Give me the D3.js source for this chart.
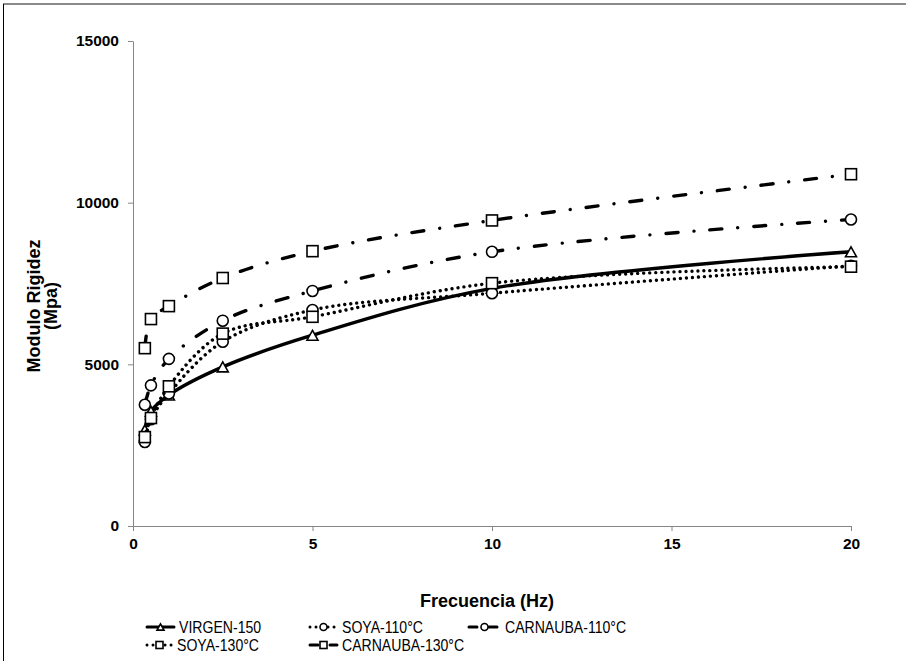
<!DOCTYPE html>
<html>
<head>
<meta charset="utf-8">
<script src="https://cdn.jsdelivr.net/npm/d3@7"></script>
<style>
  body { margin: 0; background: #fff; }
  svg { display: block; font-family: "Liberation Sans", Arial, sans-serif; }
</style>
</head>
<body>
<div id="chart"></div>
<script>
// Frequencies (Hz) and stiffness modulus (MPa)
const freqHz = [0.33, 0.5, 1, 2.5, 5, 10, 20];
const virgen150 = [2970, 3550, 4050, 4920, 5900, 7350, 8480];
const soya110 = [2600, 3300, 4100, 5700, 6680, 7200, 8050];
const carnauba110 = [3750, 4350, 5170, 6350, 7270, 8480, 9480];
const soya130 = [2750, 3340, 4320, 5950, 6470, 7510, 8020];
const carnauba130 = [5500, 6400, 6800, 7670, 8500, 9450, 10880];

const seriesNames = ["VIRGEN-150", "SOYA-110°C", "CARNAUBA-110°C", "SOYA-130°C", "CARNAUBA-130°C"];
const xTicks = [0, 5, 10, 15, 20];
const yTicks = [0, 5000, 10000, 15000];

const width = 906, height = 661;

const svg = d3.select("#chart").append("svg")
  .attr("width", width)
  .attr("height", height);

// chart frame (only top and left edges are visible)
svg.append("line").attr("x1", 3).attr("x2", width).attr("y1", 4).attr("y2", 4)
  .attr("stroke", "#8a8a8a").attr("stroke-width", 2);
svg.append("line").attr("x1", 3.5).attr("x2", 3.5).attr("y1", 4).attr("y2", height)
  .attr("stroke", "#000").attr("stroke-width", 1);

const x = d3.scaleLinear().domain([0, 20]).range([133, 851]);
const y = d3.scaleLinear().domain([0, 15000]).range([526, 41]);

// axes
const xAxis = svg.append("g")
  .attr("transform", "translate(0," + y(0) + ")")
  .call(d3.axisBottom(x).tickValues(xTicks).tickFormat(d3.format("d"))
    .tickSize(5).tickSizeOuter(0).tickPadding(7));
const yAxis = svg.append("g")
  .attr("transform", "translate(" + x(0) + ",0)")
  .call(d3.axisLeft(y).tickValues(yTicks).tickFormat(d3.format("d"))
    .tickSize(5).tickSizeOuter(0).tickPadding(9));

[xAxis, yAxis].forEach(function(g) {
  g.select(".domain").attr("stroke", "#868686");
  g.selectAll(".tick line").attr("stroke", "#868686");
  g.selectAll(".tick text")
    .attr("fill", "#000")
    .style("font-size", "15.5px")
    .style("font-weight", "bold")
    .style("font-family", "'Liberation Sans', Arial, sans-serif");
});

// axis titles
svg.append("text")
  .attr("x", 487).attr("y", 607)
  .attr("text-anchor", "middle")
  .style("font-size", "18px").style("font-weight", "bold")
  .text("Frecuencia (Hz)");

const yTitle = svg.append("text")
  .attr("transform", "translate(39.5,306) rotate(-90)")
  .attr("text-anchor", "middle")
  .style("font-size", "18px").style("font-weight", "bold");
yTitle.append("tspan").attr("x", 0).attr("dy", 0).text("Modulo Rigidez");
yTitle.append("tspan").attr("x", 0).attr("dy", 17).text("(Mpa)");

// series styles
const styles = [
  { dash: null, cap: "round", marker: "triangle" },
  { dash: "0.01 6", cap: "round", marker: "circle" },
  { dash: "12 16 0.01 16", cap: "round", marker: "circle" },
  { dash: "0.01 6", cap: "round", marker: "square" },
  { dash: "12 16 0.01 16", cap: "round", marker: "square" }
];
const seriesValues = [virgen150, soya110, carnauba110, soya130, carnauba130];

const line = d3.line()
  .x(function(d) { return x(d[0]); })
  .y(function(d) { return y(d[1]); })
  .curve(d3.curveCatmullRom.alpha(0.5));

function drawMarker(g, type, cx, cy, s) {
  if (type === "circle") {
    g.append("circle").attr("cx", cx).attr("cy", cy).attr("r", s / 2)
      .attr("fill", "#fff").attr("stroke", "#000").attr("stroke-width", 1.6);
  } else if (type === "square") {
    g.append("rect").attr("x", cx - s / 2).attr("y", cy - s / 2)
      .attr("width", s).attr("height", s)
      .attr("fill", "#fff").attr("stroke", "#000").attr("stroke-width", 1.6);
  } else {
    const h = s * 0.9;
    g.append("path")
      .attr("d", "M" + cx + "," + (cy - h / 2) + "L" + (cx + s / 2) + "," + (cy + h / 2) +
        "L" + (cx - s / 2) + "," + (cy + h / 2) + "Z")
      .attr("fill", "#fff").attr("stroke", "#000").attr("stroke-width", 1.6);
  }
}

seriesValues.forEach(function(vals, i) {
  const pts = freqHz.map(function(f, j) { return [f, vals[j]]; });
  const g = svg.append("g");
  g.append("path")
    .attr("d", line(pts))
    .attr("fill", "none")
    .attr("stroke", "#000")
    .attr("stroke-width", 3.4)
    .attr("stroke-linecap", styles[i].cap)
    .attr("stroke-dasharray", styles[i].dash);
  pts.forEach(function(p) {
    drawMarker(g, styles[i].marker, x(p[0]), y(p[1]), 11);
  });
});

// legend
const legendPos = [
  { sx: 145, tx: 179, y: 627 },
  { sx: 308, tx: 342, y: 627 },
  { sx: 467, tx: 505, y: 627 },
  { sx: 145, tx: 177, y: 645 },
  { sx: 308, tx: 342, y: 645 }
];
seriesNames.forEach(function(name, i) {
  const p = legendPos[i];
  const g = svg.append("g");
  const x1 = p.sx, x2 = p.tx - 3;
  g.append("line")
    .attr("x1", x1 + 2).attr("x2", x2 - 2).attr("y1", p.y).attr("y2", p.y)
    .attr("stroke", "#000").attr("stroke-width", 3)
    .attr("stroke-linecap", styles[i].cap)
    .attr("stroke-dasharray", i === 2 || i === 4 ? "8 6 0.01 6" : styles[i].dash);
  drawMarker(g, styles[i].marker, (x1 + x2) / 2, p.y, 7);
  g.append("text")
    .attr("transform", "translate(" + p.tx + "," + (p.y + 6) + ") scale(0.88,1)")
    .style("font-size", "16px")
    .text(name);
});
</script>
</body>
</html>
